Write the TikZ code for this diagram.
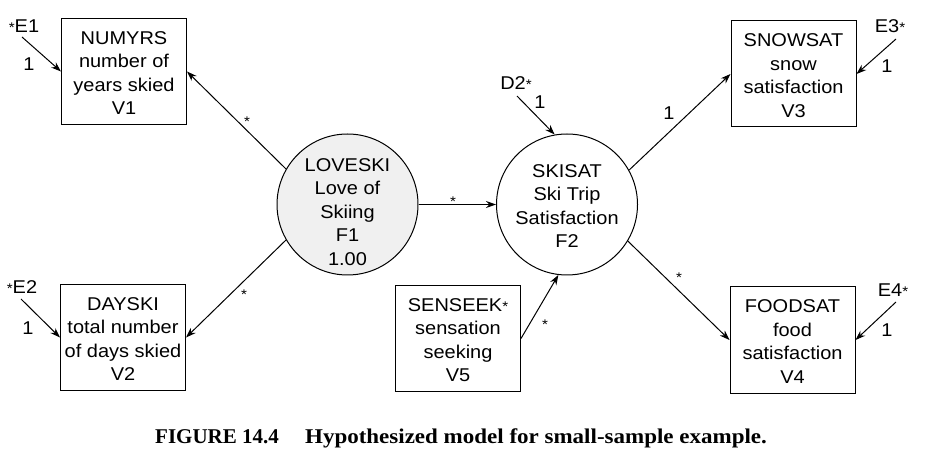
\documentclass[tikz,border=0pt]{standalone}
\usepackage{fontspec}
\usepackage{graphicx}
\setmainfont{Liberation Sans}[FakeStretch=1.08]
\newfontfamily\capfont{Liberation Serif}
\usetikzlibrary{arrows.meta}
\newcommand\mystar{{\fontsize{14bp}{14bp}\selectfont *}}
\begin{document}
\begin{tikzpicture}[x=1bp,y=-1bp,
  every node/.style={font=\fontsize{18.5bp}{23.5bp}\selectfont, inner sep=0pt},
  obs/.style={draw, line width=1bp, minimum width=125bp, minimum height=106bp},
  latent/.style={draw, circle, line width=1bp, minimum size=141bp},
  txt/.style={align=center},
  arr/.style={line width=1bp, -{Stealth[length=10bp,width=7bp]}},
  starlab/.style={font=\fontsize{14bp}{14bp}\selectfont},
  numlab/.style={}
]
\useasboundingbox (0,0) rectangle (934,470);

% observed variables
\node[obs] (N) at (124,71.5) {};
\node[txt] (Nt) at (124,73) {NUMYRS\\number of\\years skied\\V1};
\node[obs] (D) at (123,337.5) {};
\node[txt] (Dt) at (123,339) {DAYSKI\\total number\\of days skied\\V2};
\node[obs] (SN) at (793.5,74) {};
\node[txt] (SNt) at (793.5,75.5) {SNOWSAT\\snow\\satisfaction\\V3};
\node[obs] (F) at (792.5,340) {};
\node[txt] (Ft) at (792.5,341.5) {FOODSAT\\food\\satisfaction\\V4};
\node[obs] (SE) at (458,338.5) {};
\node[txt] (SEt) at (458,340) {SENSEEK\mystar\\sensation\\seeking\\V5};

% latent variables
\node[latent, fill=black!6] (L) at (347.5,204.5) {};
\node[txt] (Lt) at (347.5,212) {LOVESKI\\Love of\\Skiing\\F1\\1.00};
\node[latent] (S) at (567,204.5) {};
\node[txt] (St) at (567,206) {SKISAT\\Ski Trip\\Satisfaction\\F2};

% error terms
\coordinate (e1) at (22,37);
\coordinate (e2) at (21,299);
\coordinate (e3) at (896,39);
\coordinate (e4) at (896,302);
\coordinate (d2) at (517,96);
\node (e1l) at (24,26) {\mystar E1};
\node (e2l) at (22,287) {\mystar E2};
\node (e3l) at (890,26) {E3\mystar};
\node (e4l) at (893,290) {E4\mystar};
\node (d2l) at (516,83) {D2\mystar};

\draw[arr] (e1) -- (N.west);
\draw[arr] (e2) -- (D.west);
\draw[arr] (e3) -- (SN.east);
\draw[arr] (e4) -- (F.east);
\draw[arr] (d2) -- (S.100);

\node[numlab] (n1) at (29,64) {1};
\node[numlab] (n2) at (28,328) {1};
\node[numlab] (n3) at (887,66) {1};
\node[numlab] (n4) at (887,330) {1};
\node[numlab] (n5) at (540,102) {1};

% structural paths
\draw[arr] (L.150) -- (N.east);
\draw[arr] (L.210) -- (D.east);
\draw[arr] (L) -- (S);
\draw[arr] (S.29) -- (SN.west);
\draw[arr] (S.-31) -- (F.west);
\draw[arr] (SE.east) -- (S.-97);

\node[starlab] (s1) at (247,122) {*};
\node[starlab] (s2) at (244,295) {*};
\node[starlab] (s3) at (453,202) {*};
\node[starlab] (s4) at (679,278) {*};
\node[starlab] (s5) at (545,325) {*};
\node[numlab] (n6) at (669,113) {1};

% caption
\node[font={\capfont\bfseries\fontsize{21bp}{25bp}\selectfont}, anchor=base west] (cap) at (155,443)
  {FIGURE 14.4\hspace{1.25em}\scalebox{1.095}[1]{Hypothesized model for small-sample example.}};
\end{tikzpicture}
\end{document}
